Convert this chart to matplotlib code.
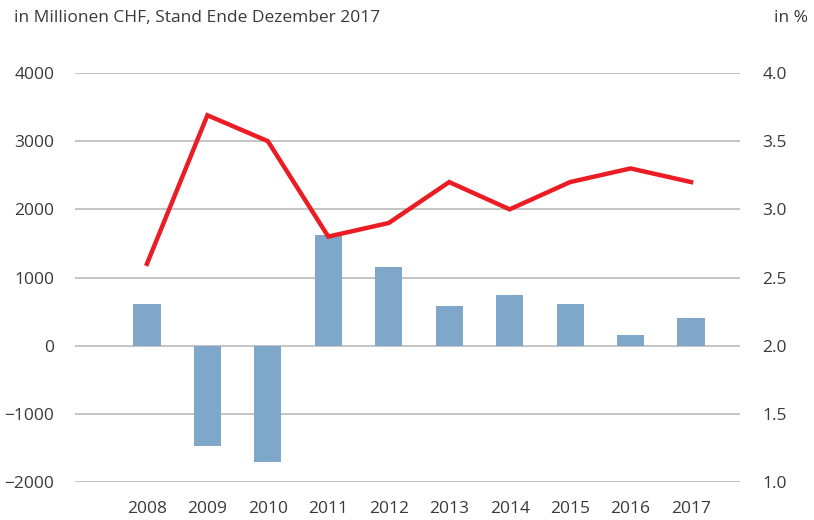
import matplotlib
matplotlib.use("Agg")
import matplotlib.pyplot as plt
import numpy as np

plt.rcParams['font.family'] = ['Open Sans', 'DejaVu Sans']

years = ['2008', '2009', '2010', '2011', '2012', '2013', '2014', '2015', '2016', '2017']
bar_values = [615, -1465, -1700, 1626, 1157, 586, 747, 615, 161, 410]
line_values = [2.60, 3.69, 3.50, 2.80, 2.90, 3.20, 3.00, 3.20, 3.30, 3.20]
left_ticks = [-2000, -1000, 0, 1000, 2000, 3000, 4000]
right_ticks = [1.0, 1.5, 2.0, 2.5, 3.0, 3.5, 4.0]

text_color = '#3a3a3a'
bar_color = '#7fa7c9'
line_color = '#ec1c24'
grid_color = '#c4c4c4'

fig = plt.figure(figsize=(8.14, 5.2), dpi=100)
ax = fig.add_axes([75/814, 1-482/520, (740-75)/814, (482-73)/520])
x = np.arange(len(years))
ax.bar(x, bar_values, width=0.45, color=bar_color, zorder=2)
ax.set_ylim(-2000, 4000)
ax.set_yticks(left_ticks)
ax.set_yticklabels([f"{v:d}".replace('-', '\u2212') for v in left_ticks])
ax.set_xlim(-1.19, 9.81)
ax.set_xticks(x)
ax.set_xticklabels(years)
for yv in left_ticks:
    ax.axhline(yv, color=grid_color, lw=1.4, zorder=1)
for s in ax.spines.values():
    s.set_visible(False)
ax.tick_params(axis='both', length=0, labelsize=12.5, colors=text_color)
ax.tick_params(axis='y', pad=15)
ax.tick_params(axis='x', pad=14)

ax2 = ax.twinx()
ax2.plot(x, line_values, color=line_color, lw=3.2, solid_joinstyle='miter', zorder=3)
ax2.set_ylim(1.0, 4.0)
ax2.set_yticks(right_ticks)
ax2.set_yticklabels([f"{v:.1f}" for v in right_ticks])
for s in ax2.spines.values():
    s.set_visible(False)
ax2.tick_params(axis='y', length=0, labelsize=12.5, colors=text_color, pad=16)

fig.text(14/814, 1-18/520, 'in Millionen CHF, Stand Ende Dezember 2017', fontsize=12.5,
         color=text_color, ha='left', va='center')
fig.text(808/814, 1-18/520, 'in %', fontsize=12.5, color=text_color, ha='right', va='center')

fig.savefig('out.png', dpi=100)
